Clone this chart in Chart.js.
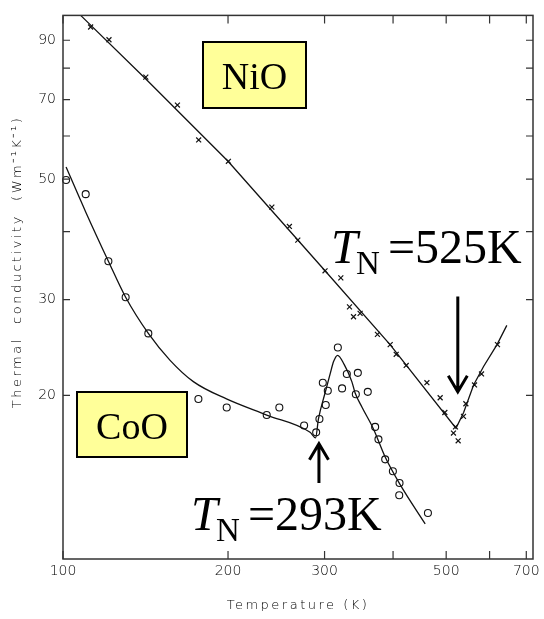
<!DOCTYPE html>
<html>
<head>
  <meta charset="utf-8">
  <title>Thermal conductivity of NiO and CoO</title>
  <script src="https://cdn.jsdelivr.net/npm/chart.js"></script>
  <style>
    body { margin: 0; background: #fff; }
  </style>
</head>
<body>
  <canvas id="kappaChart" width="544" height="619"></canvas>

  <script>
    // NiO measurements (crosses), temperature in K, conductivity in W m^-1 K^-1
    const nioTemp = [112.3, 121.3, 141.6, 161.7, 176.8, 200.3, 240.4, 258.8, 268.1, 300.6,
                     321.2, 333.1, 338.8, 348.3, 374.6, 395.2, 405.3, 422.7, 461.1, 487.5,
                     497.2, 515.5, 519.9, 525.8, 537.7, 543.1, 563.2, 580.0, 620.2];
    const nioK = [95.2, 90.2, 77.0, 68.4, 59.0, 53.9, 44.4, 40.9, 38.6, 33.9,
                  32.9, 29.1, 27.9, 28.3, 25.9, 24.8, 23.8, 22.7, 21.1, 19.8,
                  18.6, 17.05, 17.5, 16.5, 18.3, 19.3, 20.9, 21.9, 24.8];

    // CoO measurements (circles)
    const cooTemp = [101.3, 110.0, 121.0, 130.1, 143.1, 176.6, 198.9, 235.3, 248.1, 275.3,
                     289.6, 293.6, 297.8, 301.5, 304.1, 317.2, 322.9, 329.4, 342.1, 345.0,
                     359.7, 371.0, 376.2, 387.0, 399.7, 411.0, 410.5, 463.1];
    const cooK = [49.8, 46.9, 35.3, 30.3, 26.0, 19.7, 19.0, 18.4, 19.0, 17.6,
                  17.1, 18.1, 21.1, 19.2, 20.4, 24.5, 20.6, 21.9, 20.1, 22.0,
                  20.3, 17.5, 16.6, 15.25, 14.5, 13.8, 13.1, 12.15];

    // hand-drawn trend curves
    const nioFitTemp = [107.7, 141.6, 200, 300.6, 395, 521, 538, 561, 585, 619, 645];
    const nioFitK = [100, 76.4, 53.9, 33.9, 24.8, 17.4, 18.6, 20.9, 22.6, 24.8, 26.9];

    const cooFitTemp = [101.3, 110, 121, 130.1, 143.1, 156.8, 172.9, 198.7, 235.3, 282.3,
                        288.9, 292.4, 300.6, 307.1, 311.7, 316.9, 325.7, 336.4, 341.1, 351.3,
                        368.4, 387, 412.1, 457.8];
    const cooFitK = [52.6, 43.5, 35.3, 30.3, 26.0, 23.2, 21.2, 19.7, 18.4, 17.1,
                     16.7, 18.1, 20.2, 21.9, 23.1, 23.7, 22.8, 21.2, 20.2, 19.0,
                     17.35, 15.4, 13.7, 11.6];

    // Neel temperatures and the conductivity span of their arrows
    const neelNiO = 525;
    const neelCoO = 293;
    const nioArrowK = [30.4, 20.3];
    const cooArrowK = [13.8, 16.3];

    // axis ticks
    const xTicks = [100, 200, 300, 400, 500, 600, 700];
    const xLabels = [100, 200, 300, 500, 700];
    const yTicks = [20, 30, 40, 50, 60, 70, 80, 90];
    const yLabels = [20, 30, 50, 70, 90];

    const toPoints = (xs, ys) => xs.map((x, i) => ({ x: x, y: ys[i] }));

    const serif = '"Liberation Serif", "Times New Roman", serif';
    const plotFont = '"DejaVu Sans", sans-serif';

    // box frame with inward tick marks on all four sides
    const frameTicks = {
      id: 'frameTicks',
      afterDraw(chart) {
        const { ctx, chartArea: a, scales } = chart;
        ctx.save();
        ctx.strokeStyle = '#333';
        ctx.lineWidth = 1.5;
        ctx.strokeRect(a.left, a.top, a.right - a.left, a.bottom - a.top);
        ctx.lineWidth = 1.2;
        ctx.beginPath();
        xTicks.forEach(v => {
          const px = scales.x.getPixelForValue(v);
          ctx.moveTo(px, a.bottom); ctx.lineTo(px, a.bottom - 8);
          ctx.moveTo(px, a.top); ctx.lineTo(px, a.top + 8);
        });
        yTicks.forEach(v => {
          const py = scales.y.getPixelForValue(v);
          ctx.moveTo(a.left, py); ctx.lineTo(a.left + 7, py);
          ctx.moveTo(a.right, py); ctx.lineTo(a.right - 7, py);
        });
        ctx.stroke();
        ctx.restore();
      }
    };

    function labelBox(ctx, x, y, w, h, text) {
      ctx.fillStyle = '#ffff99';
      ctx.fillRect(x, y, w, h);
      ctx.strokeStyle = '#000';
      ctx.lineWidth = 2;
      ctx.strokeRect(x, y, w, h);
      ctx.fillStyle = '#000';
      ctx.font = '38px ' + serif;
      ctx.textAlign = 'center';
      ctx.textBaseline = 'alphabetic';
      ctx.fillText(text, x + w / 2, y + h / 2 + 14);
    }

    function neelLabel(ctx, x, y, value) {
      ctx.fillStyle = '#000';
      ctx.textAlign = 'left';
      ctx.textBaseline = 'alphabetic';
      ctx.font = 'italic 48px ' + serif;
      ctx.fillText('T', x, y);
      ctx.font = '33px ' + serif;
      ctx.fillText('N', x + 25, y + 11);
      ctx.font = '48px ' + serif;
      ctx.fillText('=' + value + 'K', x + 57, y);
    }

    function arrow(ctx, px, yFrom, yTo) {
      const dir = yTo > yFrom ? 1 : -1;
      ctx.strokeStyle = '#000';
      ctx.lineWidth = 3;
      ctx.beginPath();
      ctx.moveTo(px, yFrom);
      ctx.lineTo(px, yTo);
      ctx.moveTo(px - 9.5, yTo - dir * 16);
      ctx.lineTo(px, yTo);
      ctx.lineTo(px + 9.5, yTo - dir * 16);
      ctx.stroke();
    }

    const annotations = {
      id: 'annotations',
      afterDraw(chart) {
        const { ctx, scales } = chart;
        ctx.save();

        labelBox(ctx, 203, 42, 103, 66, 'NiO');
        labelBox(ctx, 77, 392, 110, 65, 'CoO');

        const xN = scales.x.getPixelForValue(neelNiO);
        arrow(ctx, xN, scales.y.getPixelForValue(nioArrowK[0]), scales.y.getPixelForValue(nioArrowK[1]));
        const xC = scales.x.getPixelForValue(neelCoO);
        arrow(ctx, xC, scales.y.getPixelForValue(cooArrowK[0]), scales.y.getPixelForValue(cooArrowK[1]));

        neelLabel(ctx, 331, 263, neelNiO);
        neelLabel(ctx, 191, 530, neelCoO);

        // axis titles in a thin, widely spaced plotter style
        ctx.fillStyle = '#000';
        ctx.font = '200 13px ' + plotFont;
        ctx.letterSpacing = '2.5px';
        ctx.textAlign = 'center';
        ctx.textBaseline = 'middle';
        ctx.fillText('Temperature (K)', 298, 606);
        ctx.translate(18, 262);
        ctx.rotate(-Math.PI / 2);
        ctx.fillText('Thermal  conductivity  (Wm\u207B\u00B9K\u207B\u00B9)', 0, 0);
        ctx.restore();
      }
    };

    new Chart(document.getElementById('kappaChart').getContext('2d'), {
      type: 'scatter',
      data: {
        datasets: [
          {
            label: 'NiO fit',
            data: toPoints(nioFitTemp, nioFitK),
            showLine: true,
            borderColor: '#111',
            borderWidth: 1.3,
            pointRadius: 0,
            tension: 0
          },
          {
            label: 'CoO fit',
            data: toPoints(cooFitTemp, cooFitK),
            showLine: true,
            borderColor: '#111',
            borderWidth: 1.3,
            pointRadius: 0,
            cubicInterpolationMode: 'monotone'
          },
          {
            label: 'NiO',
            data: toPoints(nioTemp, nioK),
            pointStyle: 'crossRot',
            pointRadius: 3.5,
            borderColor: '#111',
            borderWidth: 1.2
          },
          {
            label: 'CoO',
            data: toPoints(cooTemp, cooK),
            pointStyle: 'circle',
            pointRadius: 3.5,
            backgroundColor: 'rgba(255,255,255,0)',
            borderColor: '#111',
            borderWidth: 1.1
          }
        ]
      },
      options: {
        responsive: false,
        animation: false,
        clip: false,
        layout: { padding: { top: 13, right: 11, left: 0, bottom: 0 } },
        plugins: {
          legend: { display: false },
          tooltip: { enabled: false }
        },
        scales: {
          x: {
            type: 'logarithmic',
            min: 100,
            max: 720,
            afterBuildTicks: s => { s.ticks = xTicks.map(v => ({ value: v })); },
            afterFit: s => { s.height = 60; },
            grid: { display: false, drawTicks: false },
            border: { display: false },
            ticks: {
              autoSkip: false,
              maxRotation: 0,
              padding: 4,
              color: '#000',
              font: { family: plotFont, size: 14, weight: '200' },
              callback: v => xLabels.includes(v) ? String(v) : ''
            }
          },
          y: {
            type: 'logarithmic',
            min: 10,
            max: 100,
            afterBuildTicks: s => { s.ticks = yTicks.map(v => ({ value: v })); },
            afterFit: s => { s.width = 63; },
            grid: { display: false, drawTicks: false },
            border: { display: false },
            ticks: {
              autoSkip: false,
              padding: 7,
              color: '#000',
              font: { family: plotFont, size: 14, weight: '200' },
              callback: v => yLabels.includes(v) ? String(v) : ''
            }
          }
        }
      },
      plugins: [frameTicks, annotations]
    });
  </script>
</body>
</html>
